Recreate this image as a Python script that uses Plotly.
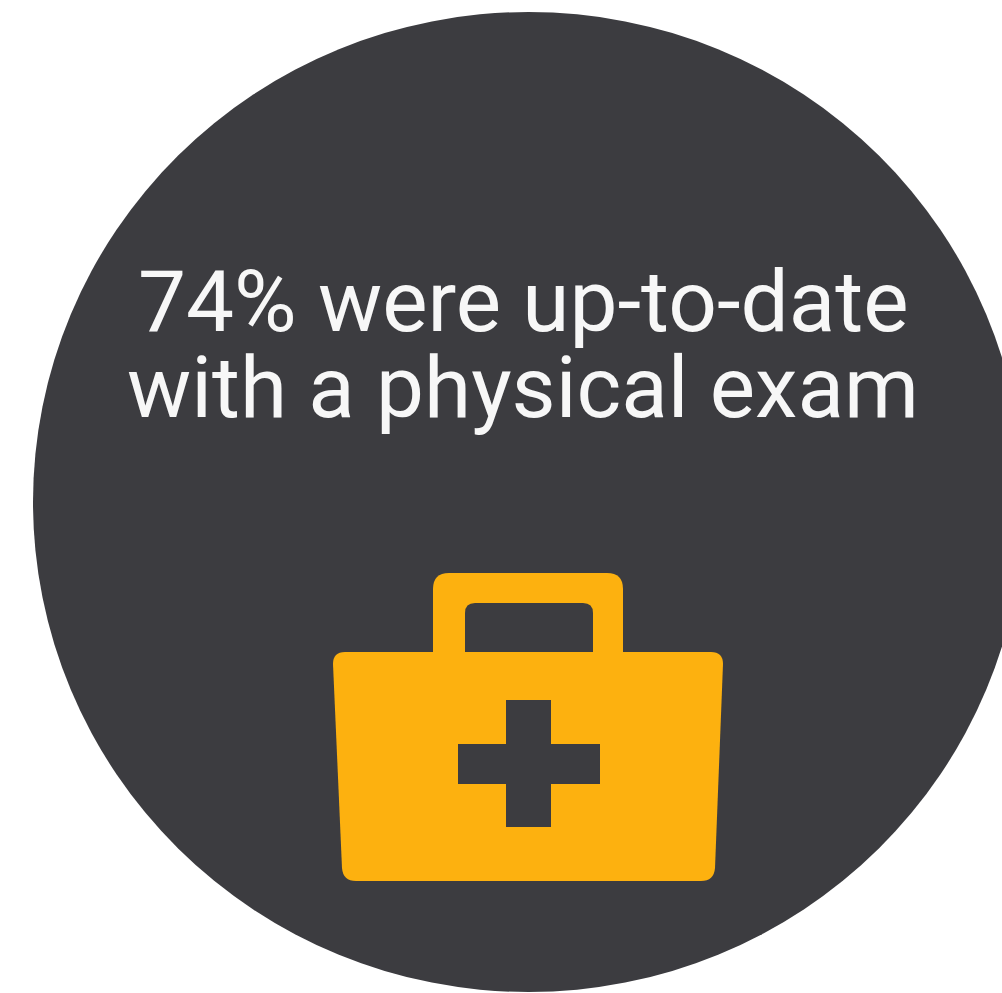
import plotly.graph_objects as go

TEXT_LINES = ["74% were up-to-date", "with a physical exam"]
DARK = "#3c3c40"
AMBER = "#fdb10f"
W, H = 1002, 993


def rrect(x0, y0, x1, y1, r):
    return (f"M{x0+r},{y0} L{x1-r},{y0} Q{x1},{y0} {x1},{y0+r} L{x1},{y1-r} Q{x1},{y1} {x1-r},{y1} "
            f"L{x0+r},{y1} Q{x0},{y1} {x0},{y1-r} L{x0},{y0+r} Q{x0},{y0} {x0+r},{y0} Z")


shapes = [
    dict(type="circle", x0=33, y0=12, x1=1024, y1=992, fillcolor=DARK, line_width=0),
    dict(type="path", path=rrect(433, 573, 623, 670, 16), fillcolor=AMBER, line_width=0),
    dict(type="path", path=rrect(465, 603, 593, 670, 10), fillcolor=DARK, line_width=0),
    dict(type="path",
         path="M345,652 L711,652 Q723,652 723,664 L715,868 Q714,881 701,881 L356,881 Q343,881 342,868 L333,664 Q333,652 345,652 Z",
         fillcolor=AMBER, line_width=0),
    dict(type="rect", x0=506, y0=700, x1=551, y1=827, fillcolor=DARK, line_width=0),
    dict(type="rect", x0=458, y0=744, x1=600, y1=784, fillcolor=DARK, line_width=0),
]

fig = go.Figure()
fig.update_layout(
    width=W, height=H, margin=dict(l=0, r=0, t=0, b=0),
    paper_bgcolor="white", plot_bgcolor="white", showlegend=False,
    xaxis=dict(range=[0, W], visible=False, fixedrange=True),
    yaxis=dict(range=[H, 0], visible=False, fixedrange=True),
    shapes=shapes,
    annotations=[
        dict(x=523, y=302, text=TEXT_LINES[0], showarrow=False, font=dict(family="Roboto", size=85.5, color="#f7f7f7")),
        dict(x=523, y=388, text=TEXT_LINES[1], showarrow=False, font=dict(family="Roboto", size=85.5, color="#f7f7f7")),
    ],
)
fig.write_html("out.html", config={"displayModeBar": False},
               post_script="document.body.style.margin='0';document.body.style.overflow='hidden';")
